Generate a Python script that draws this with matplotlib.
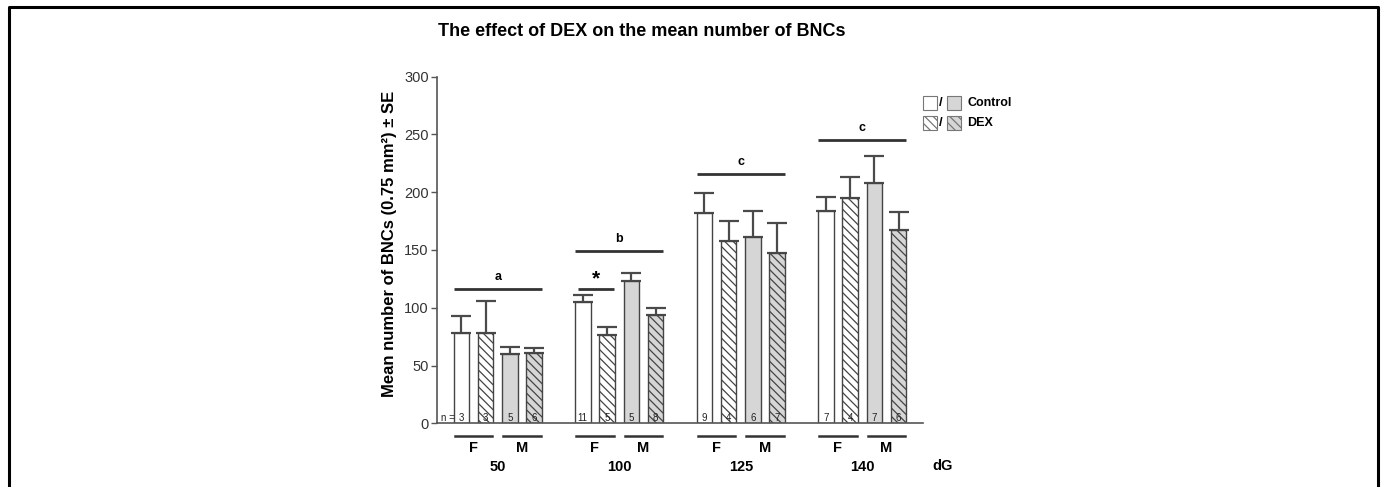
import matplotlib
matplotlib.use("Agg")
import matplotlib.pyplot as plt
from matplotlib.patches import Rectangle
from matplotlib.lines import Line2D

plt.rcParams['font.family'] = ['Liberation Sans', 'DejaVu Sans']
plt.rcParams['hatch.linewidth'] = 0.9

# data
ages = ["50", "100", "125", "140"]
groups = ["F", "M"]
# order in each age: F control, F DEX, M control, M DEX
means = [
    [78, 78, 60, 61],
    [105, 76, 123, 94],
    [182, 158, 161, 147],
    [184, 195, 208, 167],
]
se = [
    [15, 28, 6, 4],
    [6, 7, 7, 6],
    [17, 17, 23, 26],
    [12, 18, 23, 16],
]
n_vals = [
    [3, 3, 5, 6],
    [11, 5, 5, 8],
    [9, 4, 6, 7],
    [7, 4, 7, 6],
]
sig_letters = ["a", "b", "c", "c"]
sig_heights = [116, 149, 216, 245]
star_height = 116  # F control vs DEX at 100 dG

W, H = 1383, 487
fig = plt.figure(figsize=(W / 100, H / 100), dpi=100)
ax = fig.add_axes([437 / W, 1 - 423.3 / H, 486 / W, 346.8 / H])

edge = "#444444"
fills = ["white", "white", "#d6d6d6", "#d6d6d6"]
hatches = [None, "\\\\\\\\", None, "\\\\\\\\"]
bw = 0.64

for g in range(len(ages)):
    x0 = g * 5
    for k in range(4):
        x = x0 + k
        ax.bar(x, means[g][k], width=bw, color=fills[k], edgecolor=edge,
               linewidth=1.0, hatch=hatches[k], zorder=2)
        ax.errorbar(x, means[g][k], yerr=[[0], [se[g][k]]], fmt="none",
                    ecolor="#4a4a4a", elinewidth=1.6, capsize=7, capthick=1.6, zorder=1)
        ax.text(x, 4.5, str(n_vals[g][k]), ha="center", va="center", fontsize=7,
                color="#222222", zorder=3)
    # significance letter line
    ax.plot([x0 - 0.32, x0 + 3.32], [sig_heights[g]] * 2, color="#333333", lw=2,
            solid_capstyle="butt", clip_on=False)
    ax.text(x0 + 1.5, sig_heights[g] + 5, sig_letters[g], ha="center", va="bottom",
            fontsize=9, fontweight="bold")
    # F / M bars below the axis
    for j, lab in enumerate(groups):
        c = x0 + 0.5 + 2 * j
        ax.plot([c - 0.77, c + 0.77], [-0.036] * 2, color="#333333", lw=1.8,
                transform=ax.get_xaxis_transform(), clip_on=False)
        ax.text(c, -0.072, lab, ha="center", va="center", fontsize=10.5,
                fontweight="bold", transform=ax.get_xaxis_transform())
    ax.text(x0 + 1.5, -0.127, ages[g], ha="center", va="center", fontsize=10.5,
            fontweight="bold", transform=ax.get_xaxis_transform())

ax.text(-0.28, 4.5, "n =", ha="right", va="center", fontsize=7, color="#222222")
ax.text(19.8, -0.122, "dG", ha="center", va="center", fontsize=10.5, fontweight="bold",
        transform=ax.get_xaxis_transform())

# star comparison at 100 dG
ax.plot([4.8, 6.3], [star_height] * 2, color="#333333", lw=2, solid_capstyle="butt")
ax.text(5.55, star_height + 1, "*", ha="center", va="bottom", fontsize=15,
        fontweight="bold")

ax.set_xlim(-1, 19)
ax.set_ylim(0, 300)
ax.set_yticks(range(0, 301, 50))
ax.set_xticks([])
for s in ["top", "right"]:
    ax.spines[s].set_visible(False)
for s in ["left", "bottom"]:
    ax.spines[s].set_color("#555555")
    ax.spines[s].set_linewidth(1.2)
ax.tick_params(axis="y", direction="out", length=4, width=1, color="#555555",
               labelsize=10.5, labelcolor="#333333", pad=2)
ax.set_ylabel("Mean number of BNCs (0.75 mm²) ± SE", fontsize=12, fontweight="bold")
ax.yaxis.set_label_coords(-0.082, 0.518)

fig.text(642 / W, 1 - 31 / H, "The effect of DEX on the mean number of BNCs",
         ha="center", va="center", fontsize=13, fontweight="bold")

# legend drawn by hand
for row, (lab, hat) in enumerate([("Control", None), ("DEX", "\\\\\\\\")]):
    yc = 103 + row * 20
    for i, fc in enumerate(["white", "#d6d6d6"]):
        xl = 923 + i * 24
        fig.add_artist(Rectangle((xl / W, 1 - (yc + 7) / H), 14 / W, 14 / H,
                                 transform=fig.transFigure, facecolor=fc,
                                 edgecolor="#777777", lw=0.8, hatch=hat))
    fig.text(941 / W, 1 - yc / H, "/", ha="center", va="center", fontsize=9.5,
             fontweight="bold")
    fig.text(967 / W, 1 - yc / H, lab, ha="left", va="center", fontsize=9,
             fontweight="bold")

# outer frame (open at the bottom)
fx0, fx1, fy1 = 9 / W, 1378 / W, 1 - 7 / H
fig.add_artist(Line2D([fx0, fx0, fx1, fx1], [0, fy1, fy1, 0],
                      transform=fig.transFigure, color="black", lw=2.2))

fig.savefig("out.png", dpi=100)
